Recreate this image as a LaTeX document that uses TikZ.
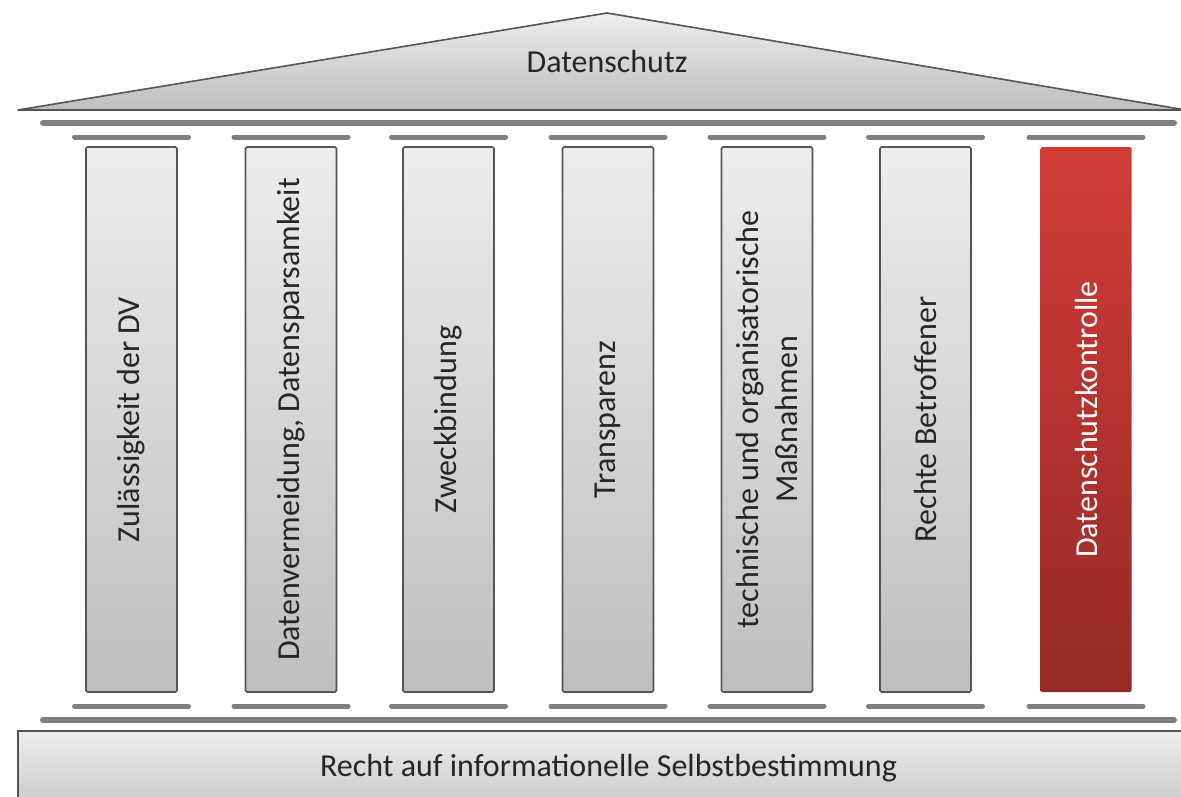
\documentclass[tikz,border=0pt]{standalone}
\usepackage{fontspec}
\setmainfont{Carlito}
\definecolor{colTop}{HTML}{EDEDED}
\definecolor{colBot}{HTML}{BEBEBE}
\definecolor{redTop}{HTML}{D23C37}
\definecolor{redBot}{HTML}{962927}
\definecolor{lineCol}{HTML}{555555}
\definecolor{barCol}{HTML}{7F7F7F}
\definecolor{txtCol}{HTML}{262626}
\newcommand{\lblfont}{\fontsize{32}{38.5}\selectfont}
\tikzset{
  pillar/.style={draw=lineCol, line width=1.6pt, rounded corners=1.5pt,
    top color=colTop, bottom color=colBot,
    minimum width=91pt, minimum height=545pt, inner sep=0pt},
  redpillar/.style={pillar, draw=none, top color=redTop, bottom color=redBot},
  ptext/.style={rotate=90, font=\lblfont, text=txtCol, align=center, inner sep=0pt},
  plainlbl/.style={font=\lblfont, text=txtCol, inner sep=0pt},
  bar/.style={draw=barCol, line width=5pt, line cap=round},
  longbar/.style={draw=barCol, line width=6pt, line cap=round},
}
\begin{document}
\begin{tikzpicture}[x=1pt,y=1pt]
\useasboundingbox (0,0) rectangle (1181,-796);
\clip (0,0) rectangle (1181,-796);
% roof
\draw[draw=lineCol, line width=1.6pt, line join=round, top color=colTop, bottom color=colBot]
  (18,-110) -- (607,-13) -- (1186,-110) -- cycle;
\node[plainlbl] (roof) at (607,-62) {Datenschutz};
% long bars
\draw[longbar] (43,-123) -- (1174,-123);
\draw[longbar] (43,-720) -- (1174,-720);
% pillar caps and feet
\foreach \cx in {131.5, 291, 448.5, 608, 767, 925.5, 1086}{
  \draw[bar] (\cx-57,-137) -- (\cx+57,-137);
  \draw[bar] (\cx-57,-706) -- (\cx+57,-706);
}
\node[pillar] (p1) at (131.5,-419.5) {};
\node[pillar] (p2) at (291,-419.5) {};
\node[pillar] (p3) at (448.5,-419.5) {};
\node[pillar] (p4) at (608,-419.5) {};
\node[pillar] (p5) at (767,-419.5) {};
\node[pillar] (p6) at (925.5,-419.5) {};
\node[redpillar] (p7) at (1086,-419.5) {};
\node[ptext] (t1) at (p1.center) {Zulässigkeit der DV};
\node[ptext] (t2) at (p2.center) {Datenvermeidung, Datensparsamkeit};
\node[ptext] (t3) at (p3.center) {Zweckbindung};
\node[ptext] (t4) at (p4.center) {Transparenz};
\node[ptext] (t5) at (p5.center) {technische und organisatorische\\Maßnahmen};
\node[ptext] (t6) at (p6.center) {Rechte Betroffener};
\node[ptext, text=white] (t7) at (p7.center) {Datenschutzkontrolle};
% base
\draw[draw=lineCol, line width=1.6pt, top color=colTop, bottom color=colBot]
  (18,-830) -- (18,-731) -- (1200,-731) -- (1200,-830);
\node[plainlbl] (base) at (608.5,-768) {Recht auf informationelle Selbstbestimmung};
\end{tikzpicture}
\end{document}
